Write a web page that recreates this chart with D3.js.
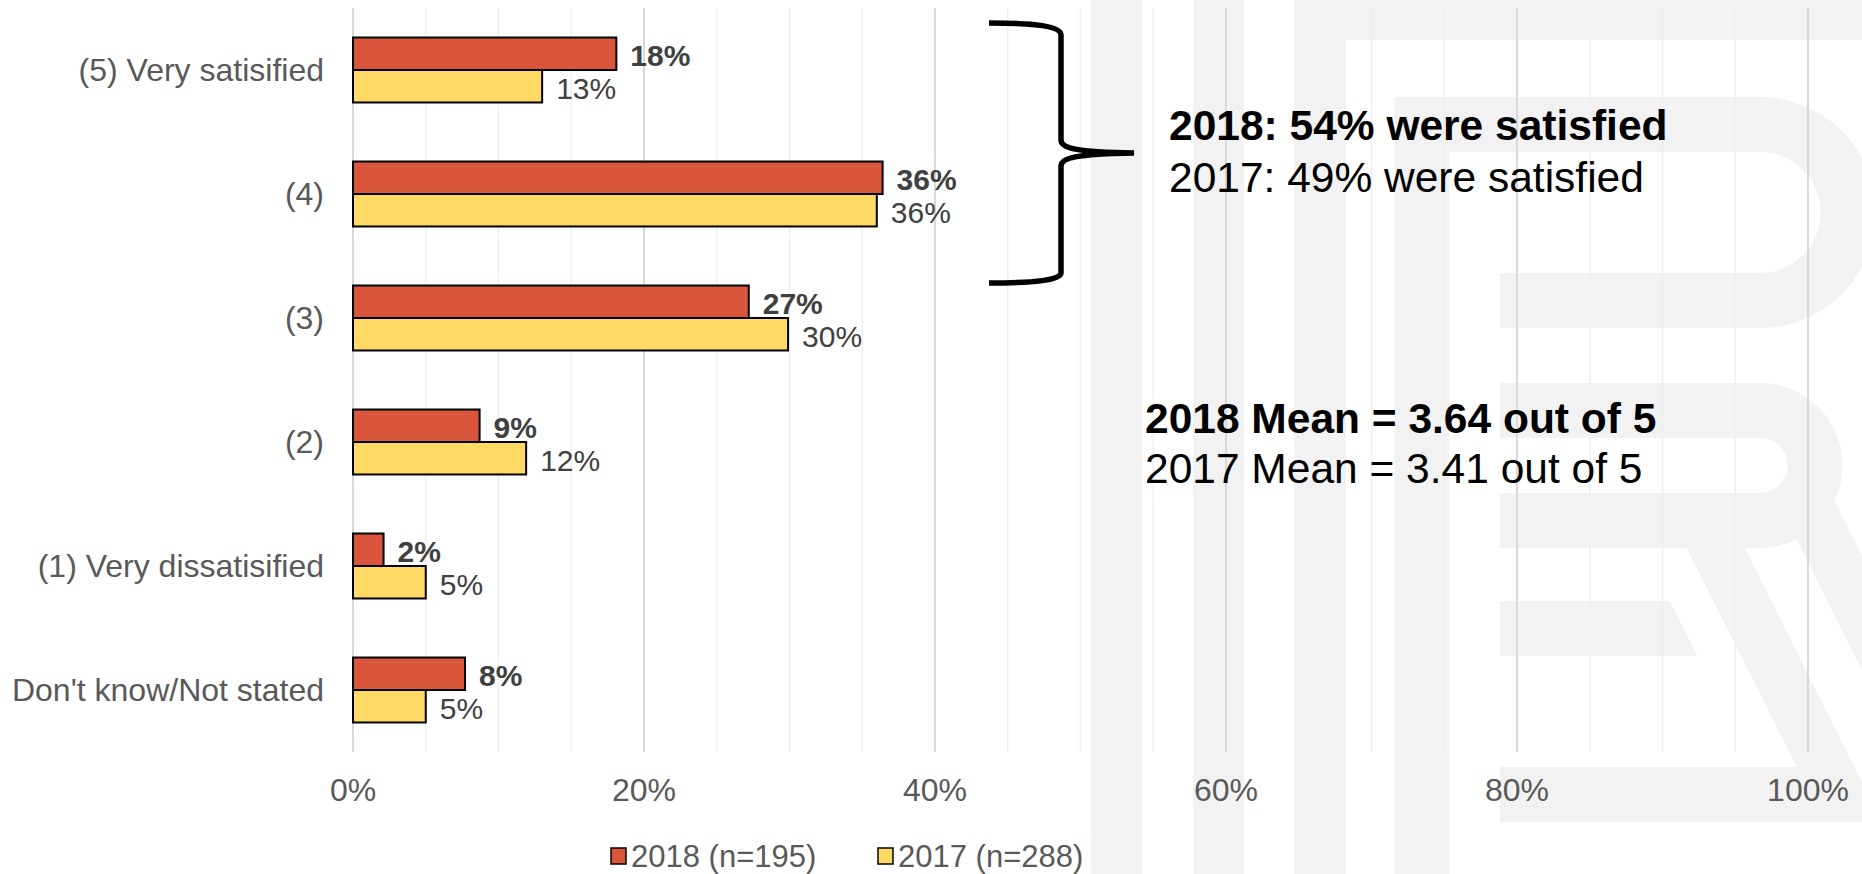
<!DOCTYPE html>
<html lang="en">
  <head>
    <meta charset="utf-8">
    <title>Satisfaction 2018 vs 2017</title>
    <script src="https://d3js.org/d3.v7.js"></script>
    <style>
    body {margin: 0; background: white;}
    svg {display: block;}
    text {font-family: "Liberation Sans", Arial, sans-serif;}
    </style>
  </head>
  <body>
  <script>

  // data
  var categories = ["(5) Very satisified", "(4)", "(3)", "(2)", "(1) Very dissatisified", "Don't know/Not stated"];
  var seriesNames = ["2018 (n=195)", "2017 (n=288)"];
  var values2018 = [18.1, 36.4, 27.2, 8.7, 2.1, 7.7];
  var values2017 = [13.0, 36.0, 29.9, 11.9, 5.0, 5.0];
  var tickValues = [0, 20, 40, 60, 80, 100];
  var tickLabels = ["0%", "20%", "40%", "60%", "80%", "100%"];
  var colors = ["#d9553b", "#ffd966"];
  var noteLines = [
    {text: "2018: 54% were satisfied", bold: true},
    {text: "2017: 49% were satisfied", bold: false}
  ];
  var meanLines = [
    {text: "2018 Mean = 3.64 out of 5", bold: true},
    {text: "2017 Mean = 3.41 out of 5", bold: false}
  ];

  var w = 1862;
  var h = 874;
  var plot = {left: 353, right: 1808, top: 8, bottom: 752};

  var svg = d3.select("body")
      .append("svg")
      .attr("width", w)
      .attr("height", h);

  // faint watermark in the background
  var wm = svg.append("g").attr("fill", "#f2f2f2").attr("stroke", "none");
  [[1091, 0, 51, 874], [1193, 0, 51, 874], [1294, 0, 52, 874], [1346, 0, 516, 40]]
    .forEach(function(r) {
      wm.append("rect").attr("x", r[0]).attr("y", r[1]).attr("width", r[2]).attr("height", r[3]);
    });
  svg.append("path")
     .attr("d", "M1422,874 V124.5 H1760 A88,88 0 0 1 1760,300.5 H1500")
     .attr("fill", "none").attr("stroke", "#f2f2f2").attr("stroke-width", 55);
  svg.append("path")
     .attr("d", "M1500,410.5 H1760 A55,55 0 0 1 1760,520.5 H1500")
     .attr("fill", "none").attr("stroke", "#f2f2f2").attr("stroke-width", 55);
  wm.append("path").attr("d", "M1717,492 L1862,782 L1862,822 L1500,822 L1500,767 L1797,767 L1687,549 Z");
  wm.append("path").attr("d", "M1500,601 L1670,601 L1697,656 L1500,656 Z");
  wm.append("path").attr("d", "M1773,492 L1830,492 L1862,556 L1862,670 Z");

  var xScale = d3.scaleLinear()
      .domain([0, 100])
      .range([plot.left, plot.right]);

  var yScale = d3.scaleBand()
      .domain(categories)
      .range([plot.top, plot.bottom])
      .paddingInner(0.476)
      .paddingOuter(0.238);

  var ySub = d3.scaleBand()
      .domain(seriesNames)
      .range([0, yScale.bandwidth()]);

  // gridlines, light every 4%, darker every 20%
  var minor = xScale.ticks(25);
  svg.selectAll(".minor")
     .data(minor)
     .join("line")
     .attr("class", "minor")
     .attr("x1", d => xScale(d)).attr("x2", d => xScale(d))
     .attr("y1", plot.top).attr("y2", plot.bottom)
     .attr("stroke", "#efefef")
     .attr("stroke-width", 1.5);

  svg.selectAll(".major")
     .data(tickValues)
     .join("line")
     .attr("class", "major")
     .attr("x1", d => xScale(d)).attr("x2", d => xScale(d))
     .attr("y1", plot.top).attr("y2", plot.bottom)
     .attr("stroke", "#d9d9d9")
     .attr("stroke-width", 2);

  svg.selectAll(".tick-label")
     .data(tickValues)
     .join("text")
     .attr("class", "tick-label")
     .attr("x", d => xScale(d))
     .attr("y", 801)
     .attr("text-anchor", "middle")
     .style("font-size", "32px")
     .attr("fill", "#595959")
     .text((d, i) => tickLabels[i]);

  // category labels
  svg.selectAll(".cat-label")
     .data(categories)
     .join("text")
     .attr("class", "cat-label")
     .attr("x", 324)
     .attr("y", d => yScale(d) + yScale.bandwidth() / 2)
     .attr("dy", "0.35em")
     .attr("text-anchor", "end")
     .style("font-size", "32px")
     .attr("fill", "#595959")
     .text(d => d);

  var rows = [];
  categories.forEach(function(c, i) {
    rows.push({cat: c, s: seriesNames[0], v: values2018[i], k: 0});
    rows.push({cat: c, s: seriesNames[1], v: values2017[i], k: 1});
  });

  svg.selectAll(".bar")
     .data(rows)
     .join("rect")
     .attr("class", "bar")
     .attr("x", xScale(0))
     .attr("y", d => yScale(d.cat) + ySub(d.s))
     .attr("width", d => xScale(d.v) - xScale(0))
     .attr("height", ySub.bandwidth())
     .attr("fill", d => colors[d.k])
     .attr("stroke", "#000")
     .attr("stroke-width", 2);

  svg.selectAll(".val-label")
     .data(rows)
     .join("text")
     .attr("class", "val-label")
     .attr("x", d => xScale(d.v) + 14)
     .attr("y", d => yScale(d.cat) + ySub(d.s) + ySub.bandwidth() / 2 + 2)
     .attr("dy", "0.35em")
     .style("font-size", "30px")
     .style("font-weight", d => d.k == 0 ? "bold" : "normal")
     .attr("fill", "#404040")
     .text(d => Math.round(d.v) + "%");

  // brace next to the top two categories
  svg.append("path")
     .attr("d", "M989,23 C1035,23 1061,26 1061,35 L1061,140 C1061,148 1075,152 1134,153 C1075,154 1061,158 1061,166 L1061,273 C1061,280 1035,283 989,283")
     .attr("fill", "none")
     .attr("stroke", "#000")
     .attr("stroke-width", 5.5);

  svg.selectAll(".note")
     .data(noteLines)
     .join("text")
     .attr("class", "note")
     .attr("x", 1169)
     .attr("y", (d, i) => 140 + i * 52)
     .style("font-size", "42.5px")
     .style("font-weight", d => d.bold ? "bold" : "normal")
     .attr("fill", "#000")
     .text(d => d.text);

  svg.selectAll(".mean")
     .data(meanLines)
     .join("text")
     .attr("class", "mean")
     .attr("x", 1145)
     .attr("y", (d, i) => 433 + i * 50)
     .style("font-size", "42.5px")
     .style("font-weight", d => d.bold ? "bold" : "normal")
     .attr("fill", "#000")
     .text(d => d.text);

  // legend
  var legendX = [611, 878];
  var lg = svg.selectAll(".legend")
     .data(seriesNames)
     .join("g")
     .attr("class", "legend")
     .attr("transform", (d, i) => `translate(${legendX[i]}, 856)`);
  lg.append("rect")
     .attr("x", 0).attr("y", -8)
     .attr("width", 15).attr("height", 16)
     .attr("fill", (d, i) => colors[i])
     .attr("stroke", "#000")
     .attr("stroke-width", 1.5);
  lg.append("text")
     .attr("x", 20)
     .attr("dy", "0.35em")
     .style("font-size", "31px")
     .attr("fill", "#595959")
     .text(d => d);

  </script>
  </body>
</html>
